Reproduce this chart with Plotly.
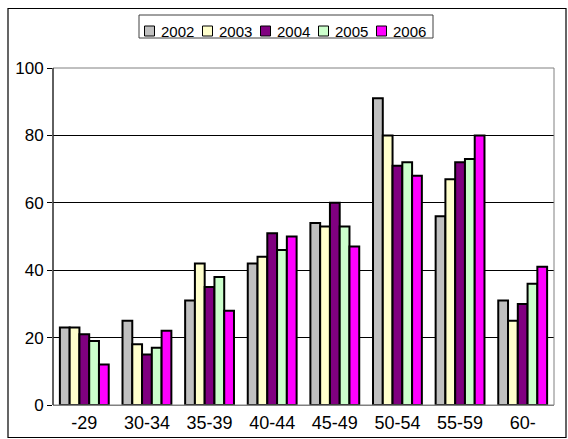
import plotly.graph_objects as go

categories = ["-29", "30-34", "35-39", "40-44", "45-49", "50-54", "55-59", "60-"]
years = ["2002", "2003", "2004", "2005", "2006"]
v2002 = [23, 25, 31, 42, 54, 91, 56, 31]
v2003 = [23, 18, 42, 44, 53, 80, 67, 25]
v2004 = [21, 15, 35, 51, 60, 71, 72, 30]
v2005 = [19, 17, 38, 46, 53, 72, 73, 36]
v2006 = [12, 22, 28, 50, 47, 68, 80, 41]
series = [v2002, v2003, v2004, v2005, v2006]
colors = ["#C0C0C0", "#FFFFCC", "#800080", "#CCFFCC", "#FF00FF"]
y_ticks = [0, 20, 40, 60, 80, 100]

W, H = 568, 439
L, R, T, B = 53, 14, 68, 34
PW, PH = W - L - R, H - T - B

def px(x):
    return (x - L) / PW

def py(y):
    return (H - B - y) / PH

FONT = "Liberation Sans, Arial, sans-serif"

fig = go.Figure()
for name, vals, col in zip(years, series, colors):
    fig.add_trace(go.Bar(x=categories, y=vals, name=name,
                         marker=dict(color=col, line=dict(color="#000000", width=2)),
                         showlegend=False))

shapes = []
annotations = []
# outer chart border
shapes.append(dict(type="rect", xref="paper", yref="paper", x0=px(8), x1=px(566),
                   y0=py(437.5), y1=py(8.5), line=dict(color="black", width=1.2)))
# plot area border (top/right gray)
shapes.append(dict(type="rect", xref="paper", yref="paper", x0=0, x1=1, y0=0, y1=1,
                   line=dict(color="#808080", width=1)))
# left axis line
shapes.append(dict(type="line", xref="paper", yref="paper", x0=0, x1=0, y0=0, y1=1,
                   line=dict(color="black", width=1)))
# legend box
shapes.append(dict(type="rect", xref="paper", yref="paper", x0=px(139), x1=px(433),
                   y0=py(38), y1=py(15), line=dict(color="#404040", width=1),
                   fillcolor="white"))
for i, (name, col) in enumerate(zip(years, colors)):
    sx = 144.5 + i * 58
    shapes.append(dict(type="rect", xref="paper", yref="paper", x0=px(sx), x1=px(sx + 10),
                       y0=py(36), y1=py(26), fillcolor=col,
                       line=dict(color="black", width=1)))
    annotations.append(dict(text=name, xref="paper", yref="paper", x=px(sx + 14.5), y=py(31),
                            xanchor="left", yanchor="middle", showarrow=False,
                            font=dict(size=15, color="black", family=FONT)))

fig.update_layout(
    width=W, height=H,
    margin=dict(l=L, r=R, t=T, b=B, pad=0, autoexpand=False),
    paper_bgcolor="white", plot_bgcolor="white",
    barmode="group", bargap=0.22, bargroupgap=0,
    font=dict(family=FONT, size=18, color="black"),
    shapes=shapes, annotations=annotations,
    xaxis=dict(showgrid=False, ticks="", showline=False, tickfont=dict(size=18),
               ticklabelstandoff=5, automargin=False),
    yaxis=dict(range=[0, 100], tickvals=y_ticks, showgrid=True, gridcolor="#000000",
               gridwidth=1, zeroline=True, zerolinecolor="#808080", zerolinewidth=1,
               ticks="outside", ticklen=5, tickcolor="black", tickfont=dict(size=17),
               showline=False, automargin=False),
)

fig.write_html("out.html", config={"displayModeBar": False},
               post_script="document.body.style.margin='0';document.body.style.overflow='hidden';")
